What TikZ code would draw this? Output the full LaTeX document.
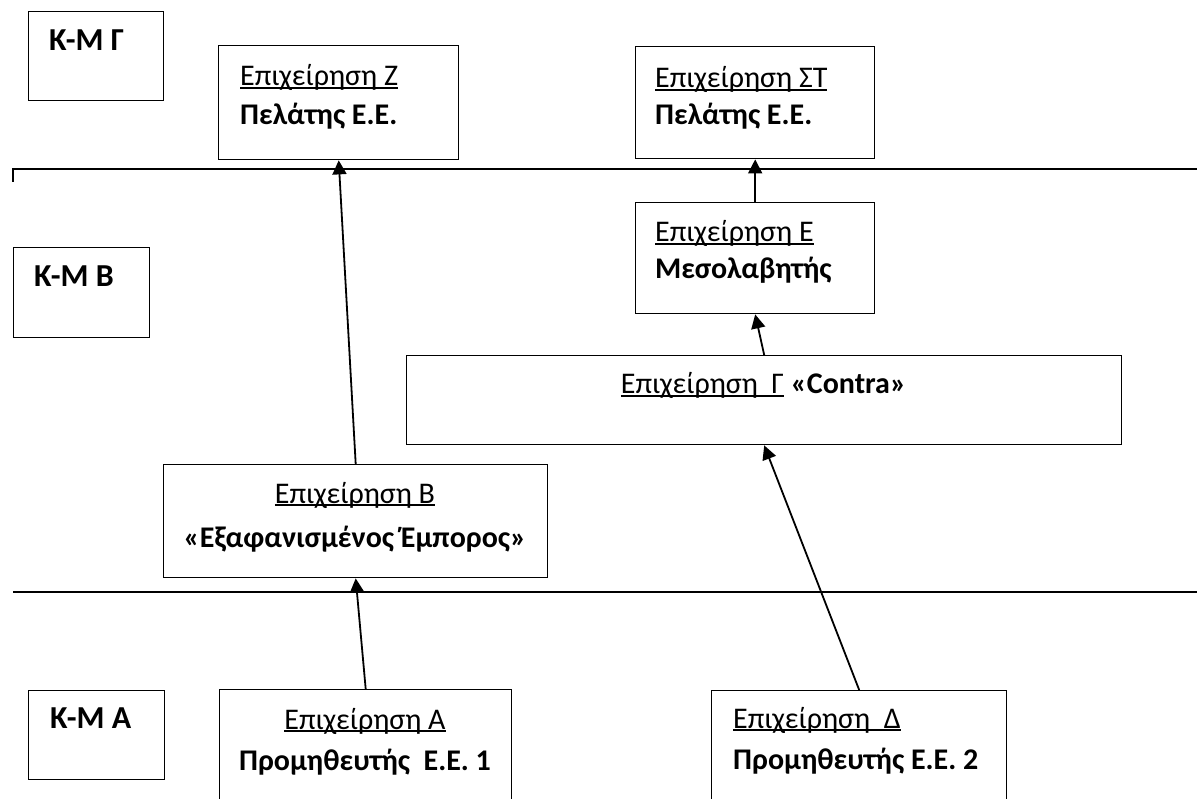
\documentclass[tikz,border=0pt]{standalone}
\usepackage{fontspec}
\setmainfont{Carlito}
\usetikzlibrary{arrows.meta}
% underline drawn at a fixed depth below the baseline
\newsavebox\ulsave
\newcommand\ulin[1]{\sbox\ulsave{#1}\rlap{\rule[-2.8pt]{\wd\ulsave}{1.4pt}}\usebox\ulsave}
\newcommand\bodyfont{\fontsize{30}{36}\selectfont}
\begin{document}
\begin{tikzpicture}[x=1pt,y=-1pt,
  box/.style={draw, line width=1.4pt, rectangle, inner sep=0pt, anchor=north west},
  txt/.style={inner sep=0pt, anchor=base west, font=\bodyfont},
  btxt/.style={txt, font=\bodyfont\bfseries},
  ctxt/.style={txt, anchor=base},
  cbtxt/.style={btxt, anchor=base},
  tag/.style={inner sep=0pt, anchor=base west, font=\fontsize{32}{38}\selectfont\bfseries},
  sepline/.style={line width=1.8pt},
  conn/.style={line width=1.8pt, -{Triangle[length=14pt,width=14pt]}}]
\useasboundingbox (0,0) rectangle (1197,799);
\clip (0,0) rectangle (1197,799);

% level separators
\draw[sepline] (13,182) -- (13,169) -- (1197,169);
\draw[sepline] (13,592) -- (1197,592);

% level tags
\node[box, minimum width=135pt, minimum height=89pt] (kmg) at (28,11) {};
\node[box, minimum width=136pt, minimum height=90pt] (kmb) at (13,247) {};
\node[box, minimum width=136pt, minimum height=89pt] (kma) at (28,690) {};
\node[tag] (kmgt) at (49,51) {Κ-Μ Γ};
\node[tag] (kmbt) at (34,287) {Κ-Μ Β};
\node[tag] (kmat) at (50,728) {Κ-Μ Α};

% firms
\node[box, minimum width=240pt, minimum height=114pt] (Z) at (218,45) {};
\node[box, minimum width=239pt, minimum height=112pt] (ST) at (635,46) {};
\node[box, minimum width=239pt, minimum height=111pt] (E) at (635,202) {};
\node[box, minimum width=715pt, minimum height=89pt] (C) at (406,355) {};
\node[box, minimum width=384pt, minimum height=113pt] (B) at (163,464) {};
\node[box, minimum width=292pt, minimum height=140pt] (A) at (219,689) {};
\node[box, minimum width=295pt, minimum height=140pt] (D) at (711,690) {};

% firm texts
\node[txt] (Z1) at (240,86) {\ulin{Επιχείρηση Ζ}};
\node[btxt] (Z2) at (240,125) {Πελάτης Ε.Ε.};
\node[txt] (ST1) at (655,88) {\ulin{Επιχείρηση ΣΤ}};
\node[btxt] (ST2) at (655,125) {Πελάτης Ε.Ε.};
\node[txt] (E1) at (655,242) {\ulin{Επιχείρηση Ε}};
\node[btxt] (E2) at (655,279) {Μεσολαβητής};
\node[ctxt] (C1) at (763.5,394) {\ulin{Επιχείρηση\ \ Γ} \textbf{«Contra»}};
\node[ctxt] (B1) at (355,503) {\ulin{Επιχείρηση Β}};
\node[cbtxt] (B2) at (355,547) {«Εξαφανισμένος Έμπορος»};
\node[ctxt] (A1) at (365,729) {\ulin{Επιχείρηση Α}};
\node[cbtxt] (A2) at (365,770) {Προμηθευτής\ \ Ε.Ε. 1};
\node[txt] (D1) at (733,728) {\ulin{Επιχείρηση\ \ Δ}};
\node[btxt] (D2) at (733,769) {Προμηθευτής Ε.Ε. 2};

% flows
\draw[conn] (B.north) -- (Z.south);
\draw[conn] (E.north) -- (ST.south);
\draw[conn] (C.north) -- (E.south);
\draw[conn] (D.north) -- (C.south);
\draw[conn] (A.north) -- (B.south);
\end{tikzpicture}
\end{document}
